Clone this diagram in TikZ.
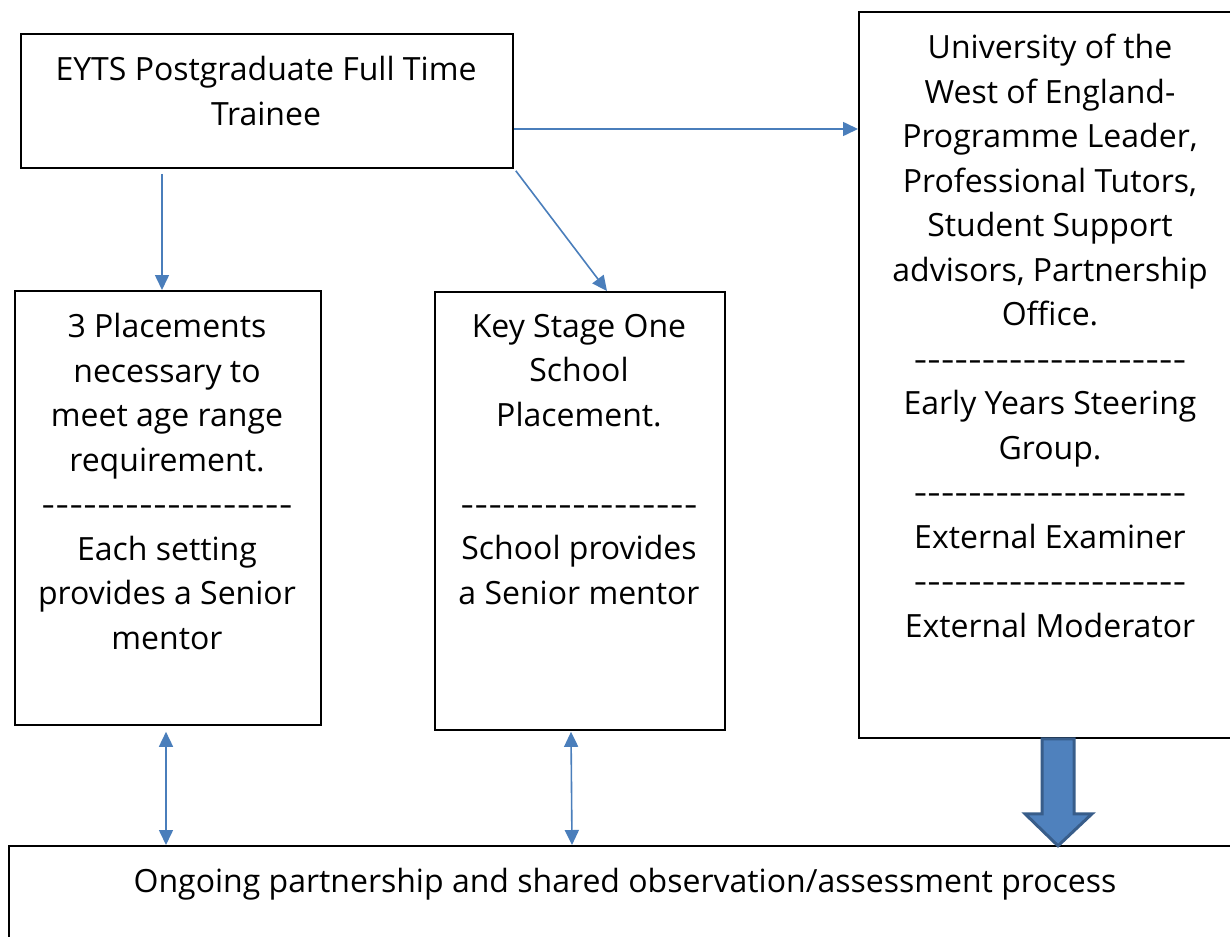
\documentclass[tikz,border=0pt]{standalone}
\usepackage{fontspec}
\setmainfont{Open Sans}
\usetikzlibrary{arrows.meta,calc}
\definecolor{linkblue}{HTML}{4A7EBB}
\definecolor{blockfill}{HTML}{4F81BD}
\definecolor{blockedge}{HTML}{385D8A}
% a row of hyphens filling a given width
\newcommand{\hyphrow}[1]{\hbox to #1{\xleaders\hbox{\scalebox{1.3}[1]{-}}\hfill}}

\begin{document}
\begin{tikzpicture}[x=1pt,y=-1pt,
  box/.style={draw=black, line width=1.8pt, rectangle, inner sep=0, anchor=north west},
  label/.style={anchor=north, align=center, inner sep=0, font=\fontsize{32}{44.5}\selectfont},
  link/.style={draw=linkblue, line width=1.6pt, -{Triangle[length=15pt,width=14pt]}},
  twoway/.style={draw=linkblue, line width=1.6pt, {Triangle[length=15pt,width=14pt]}-{Triangle[length=15pt,width=14pt]}},
  blockarrow/.style={fill=blockfill, draw=blockedge, line width=3pt, line join=miter},
]
\useasboundingbox (0,0) rectangle (1230,936);
\clip (0,0) rectangle (1230,936);

% boxes
\node[box, minimum width=492pt, minimum height=134pt] (a) at (20,33) {};
\node[box, minimum width=306pt, minimum height=434pt] (b) at (14,290) {};
\node[box, minimum width=290pt, minimum height=438pt] (c) at (434,291) {};
\node[box, minimum width=600pt, minimum height=726pt] (d) at (858,11) {};
\node[box, minimum width=1400pt, minimum height=200pt] (e) at (8,845) {};

% box texts
\node[label] (ta) at (266,56) {EYTS Postgraduate Full Time\\Trainee};
\node[label] (tb) at (167,313) {3 Placements\\necessary to\\meet age range\\requirement.\\\hyphrow{252pt}\\Each setting\\provides a Senior\\mentor};
\node[label] (tc) at (579,314) {Key Stage One\\School\\Placement.\\[44.5pt]\hyphrow{238pt}\\School provides\\a Senior mentor};
\node[label] (td) at (1050,34) {University of the\\West of England-\\Programme Leader,\\Professional Tutors,\\Student Support\\advisors, Partnership\\Office.\\\hyphrow{273pt}\\Early Years Steering\\Group.\\\hyphrow{273pt}\\External Examiner\\\hyphrow{273pt}\\External Moderator};
\node[label] (te) at (625,868) {Ongoing partnership and shared observation/assessment process};

% connectors
\draw[link] ($(a.south west)+(142,5)$) -- ($(b.north west)+(148,0)$);
\draw[link] ($(a.south east)+(2,2)$) -- ($(c.north west)+(173,0)$);
\draw[link] ($(a.north east)+(0,96)$) -- ($(d.north west)+(0,118)$);
\draw[twoway] ($(b.south west)+(152,6)$) -- ($(e.north west)+(158,0)$);
\draw[twoway] ($(c.south west)+(137,1)$) -- ($(e.north west)+(564,0)$);

% block arrow from the university box down to the partnership box
\coordinate (ds) at (d.south west);
\draw[blockarrow] ($(ds)+(184,0)$) -- ($(ds)+(216,0)$) -- ($(ds)+(216,75)$)
  -- ($(ds)+(234,75)$) -- ($(ds)+(200,107)$) -- ($(ds)+(167,75)$)
  -- ($(ds)+(184,75)$) -- cycle;
\end{tikzpicture}
\end{document}
